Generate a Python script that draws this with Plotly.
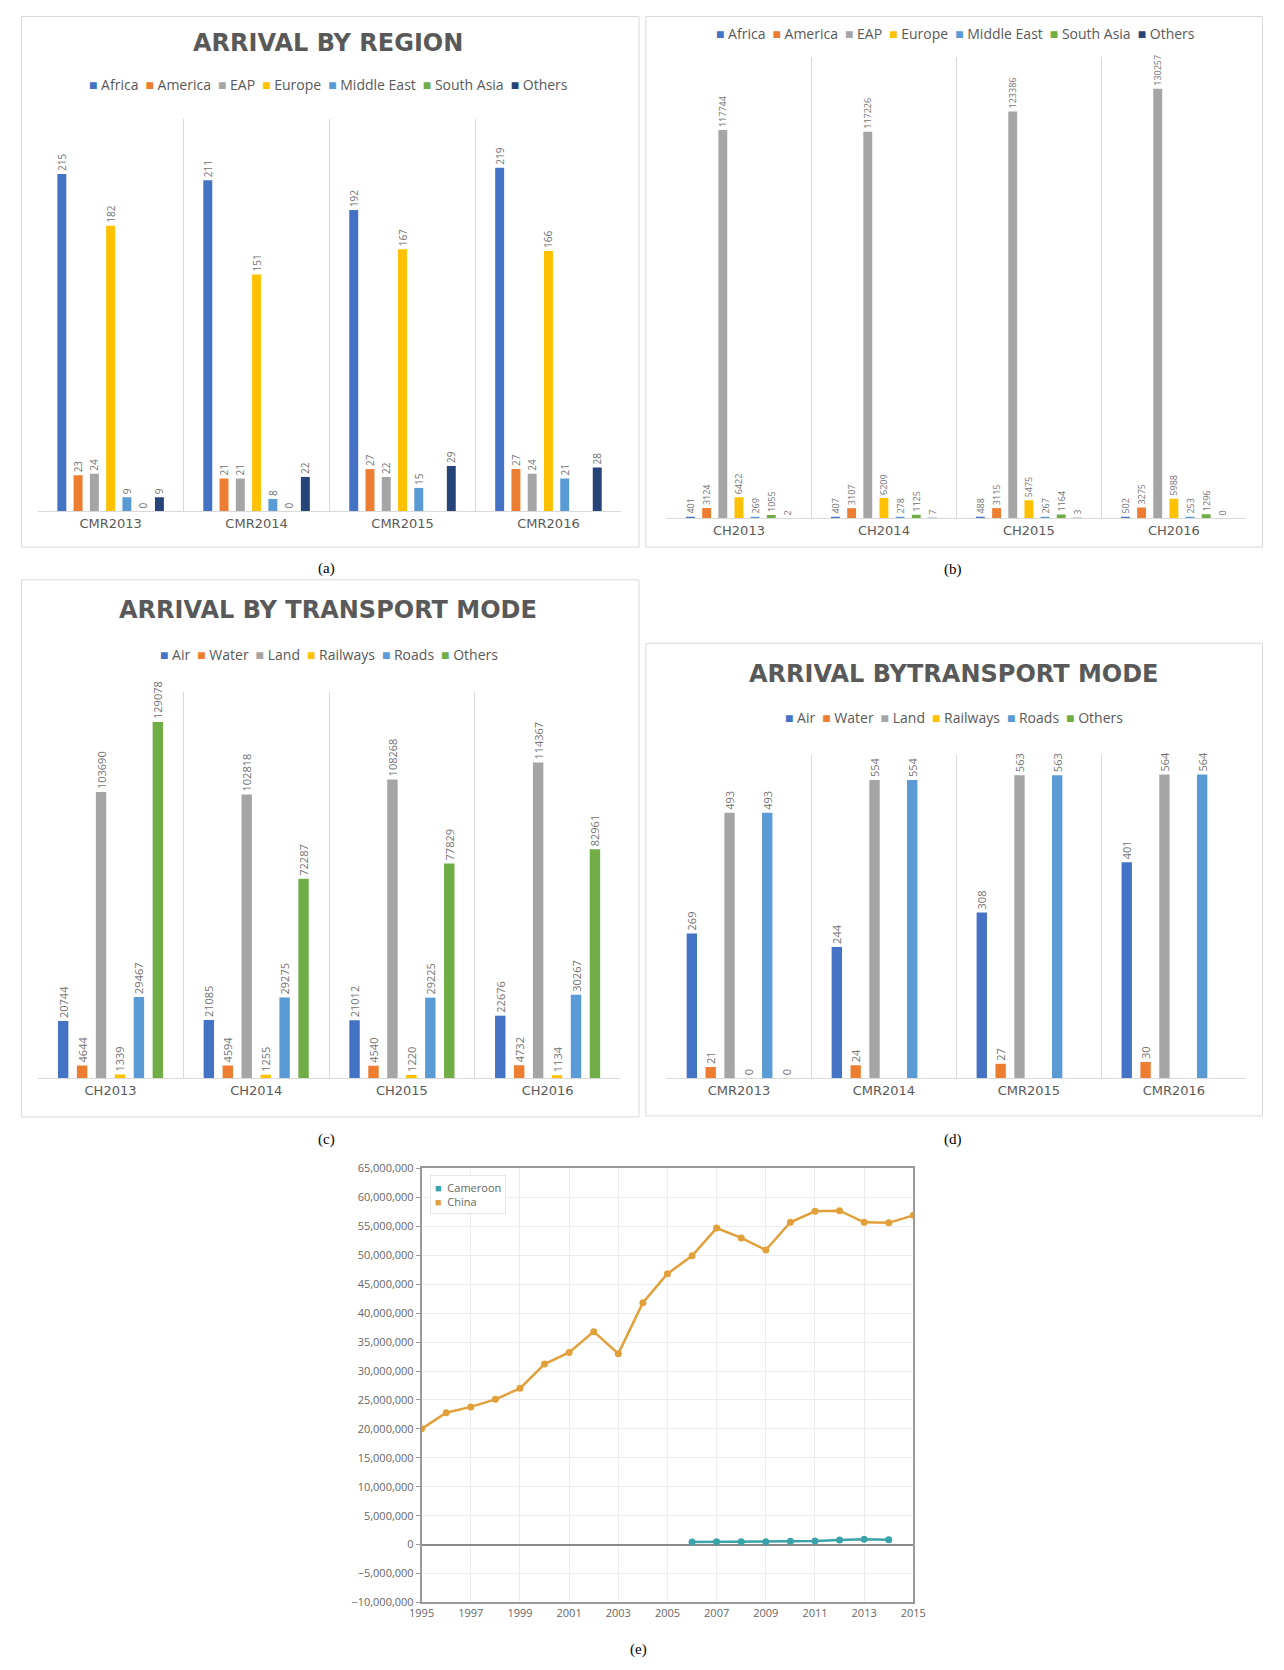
import plotly.graph_objects as go

# Target picture is 1284 x 1670; the page keeps the browser's default 8px body margin,
# so the figure is 1268 x 1654 and page = exactly the window size.
PW, PH = 1284, 1670
OFF = 8
W, H = PW - 2 * OFF, PH - 2 * OFF

# ---------------- data ----------------
a_cats = ["CMR2013", "CMR2014", "CMR2015", "CMR2016"]
a_africa = [215, 211, 192, 219]
a_america = [23, 21, 27, 27]
a_eap = [24, 21, 22, 24]
a_europe = [182, 151, 167, 166]
a_mideast = [9, 8, 15, 21]
a_southasia = [0, 0, None, None]
a_others = [9, 22, 29, 28]

b_cats = ["CH2013", "CH2014", "CH2015", "CH2016"]
b_africa = [401, 407, 488, 502]
b_america = [3124, 3107, 3115, 3275]
b_eap = [117744, 117226, 123386, 130257]
b_europe = [6422, 6209, 5475, 5988]
b_mideast = [269, 278, 267, 253]
b_southasia = [1055, 1125, 1164, 1296]
b_others = [2, 7, 3, 0]

c_cats = ["CH2013", "CH2014", "CH2015", "CH2016"]
c_air = [20744, 21085, 21012, 22676]
c_water = [4644, 4594, 4540, 4732]
c_land = [103690, 102818, 108268, 114367]
c_rail = [1339, 1255, 1220, 1134]
c_roads = [29467, 29275, 29225, 30267]
c_others = [129078, 72287, 77829, 82961]

d_cats = ["CMR2013", "CMR2014", "CMR2015", "CMR2016"]
d_air = [269, 244, 308, 401]
d_water = [21, 24, 27, 30]
d_land = [493, 554, 563, 564]
d_rail = [0, None, None, None]
d_roads = [493, 554, 563, 564]
d_others = [0, None, None, None]

region_names = ["Africa", "America", "EAP", "Europe", "Middle East", "South Asia", "Others"]
region_colors = ["#4472C4", "#ED7D31", "#A5A5A5", "#FFC000", "#5B9BD5", "#70AD47", "#264478"]
mode_names = ["Air", "Water", "Land", "Railways", "Roads", "Others"]
mode_colors = ["#4472C4", "#ED7D31", "#A5A5A5", "#FFC000", "#5B9BD5", "#70AD47"]

e_years_china = list(range(1995, 2016))
e_china = [20.0e6, 22.8e6, 23.8e6, 25.1e6, 27.0e6, 31.2e6, 33.2e6, 36.8e6, 33.0e6, 41.8e6,
           46.8e6, 49.9e6, 54.7e6, 53.0e6, 50.9e6, 55.7e6, 57.6e6, 57.7e6, 55.7e6, 55.6e6, 56.9e6]
e_years_cmr = list(range(2006, 2015))
e_cameroon = [451000, 482000, 487000, 498000, 573000, 604000, 817000, 912000, 822000]
e_names = ["Cameroon", "China"]
e_colors = ["#3BA3AA", "#E2A03A"]

# ---------------- helpers (page pixel -> paper) ----------------
def X(px):
    return (px - OFF) / W

def Y(py):
    return 1 - (py - OFF) / H

LBL = "#737373"
TXT = "#595959"
GRID = "#D9D9D9"

fig = go.Figure()

def add_bars(names, series, colors, cats, xa, ya, fs):
    for name, vals, col in zip(names, series, colors):
        fig.add_trace(go.Bar(
            x=cats, y=vals, name=name, marker=dict(color=col, line=dict(width=0)),
            text=["" if v is None else str(v) for v in vals],
            textposition="outside", textangle=-90,
            textfont=dict(size=fs, color=LBL, family="Open Sans"),
            constraintext="none", cliponaxis=False,
            xaxis=xa, yaxis=ya, showlegend=False, hoverinfo="skip"))

add_bars(region_names, [a_africa, a_america, a_eap, a_europe, a_mideast, a_southasia, a_others],
         region_colors, a_cats, "x", "y", 10)
add_bars(region_names, [b_africa, b_america, b_eap, b_europe, b_mideast, b_southasia, b_others],
         region_colors, b_cats, "x2", "y2", 9)
add_bars(mode_names, [c_air, c_water, c_land, c_rail, c_roads, c_others],
         mode_colors, c_cats, "x3", "y3", 11)
add_bars(mode_names, [d_air, d_water, d_land, d_rail, d_roads, d_others],
         mode_colors, d_cats, "x4", "y4", 11)

fig.add_trace(go.Scatter(x=e_years_cmr, y=e_cameroon, name=e_names[0], mode="lines+markers",
                         line=dict(color=e_colors[0], width=2.5), marker=dict(size=7, color=e_colors[0]),
                         xaxis="x5", yaxis="y5", showlegend=False))
fig.add_trace(go.Scatter(x=e_years_china, y=e_china, name=e_names[1], mode="lines+markers",
                         line=dict(color=e_colors[1], width=2.5), marker=dict(size=7, color=e_colors[1]),
                         xaxis="x5", yaxis="y5", showlegend=False))

def cat_x(domain, anchor):
    return dict(domain=[X(domain[0]), X(domain[1])], anchor=anchor, type="category",
                tickson="boundaries", showgrid=True, gridcolor=GRID, gridwidth=1,
                showline=True, linecolor=GRID, linewidth=1, ticks="",
                tickfont=dict(size=13, color=TXT, family="DejaVu Sans"), fixedrange=True)

def val_y(domain, anchor, rng):
    return dict(domain=[Y(domain[1]), Y(domain[0])], anchor=anchor, range=rng,
                visible=False, showgrid=False, zeroline=False, fixedrange=True)

layout = dict(
    width=W, height=H, autosize=False, margin=dict(l=0, r=0, t=0, b=0, pad=0),
    paper_bgcolor="white", plot_bgcolor="white",
    barmode="group", bargap=0.22, bargroupgap=0.45,
    showlegend=False,
    xaxis=cat_x((25, 621), "y"), yaxis=val_y((112, 508), "x", [0, 250]),
    xaxis2=cat_x((667, 1259), "y2"), yaxis2=val_y((49, 515), "x2", [0, 140000]),
    xaxis3=cat_x((25, 620), "y3"), yaxis3=val_y((690, 1080), "x3", [0, 140000]),
    xaxis4=cat_x((667, 1259), "y4"), yaxis4=val_y((754, 1080), "x4", [0, 600]),
    xaxis5=dict(domain=[X(417), X(919)], anchor="y5", range=[1995, 2015], tick0=1995, dtick=2,
                showgrid=True, gridcolor="#ECECEC", showline=True, mirror=True,
                linecolor="#9A9A9A", linewidth=1.5, ticks="", zeroline=False,
                tickfont=dict(size=11, color="#666666", family="Open Sans")),
    yaxis5=dict(domain=[Y(1609), Y(1171)], anchor="x5", range=[-10e6, 65e6], tick0=0, dtick=5e6,
                tickformat=",d", showgrid=True, gridcolor="#ECECEC", showline=True, mirror=True,
                linecolor="#9A9A9A", linewidth=1.5, ticks="outside", ticklen=4, tickcolor="#9A9A9A",
                zeroline=True, zerolinecolor="#8A8A8A", zerolinewidth=1.5,
                tickfont=dict(size=11, color="#666666", family="Open Sans")),
)
fig.update_layout(**layout)

# panel borders (kept inside the figure area)
shapes = []
for (x0, y0, x1, y1) in [(8.5, 8.5, 639, 544), (646, 8.5, 1275.5, 544),
                         (8.5, 577, 639, 1119), (646, 641, 1275.5, 1118)]:
    shapes.append(dict(type="rect", xref="paper", yref="paper", x0=X(x0), x1=X(x1), y0=Y(y1), y1=Y(y0),
                       line=dict(color=GRID, width=1), fillcolor="rgba(0,0,0,0)", layer="below"))
fig.update_layout(shapes=shapes)

ann = []

def title(text, cx, cy):
    ann.append(dict(text="<b>" + text + "</b>", x=X(cx), y=Y(cy), xref="paper", yref="paper",
                    xanchor="center", yanchor="middle", showarrow=False,
                    font=dict(size=24, color=TXT, family="DejaVu Sans")))

def legend_text(names, colors, cx, cy, size=14):
    parts = ["<span style='color:%s'>■</span> %s" % (c, n) for n, c in zip(names, colors)]
    ann.append(dict(text="\u2002".join(parts), x=X(cx), y=Y(cy), xref="paper", yref="paper",
                    xanchor="center", yanchor="middle", showarrow=False,
                    font=dict(size=size, color=TXT, family="Open Sans")))

def caption(text, cx, cy):
    ann.append(dict(text=text, x=X(cx), y=Y(cy), xref="paper", yref="paper",
                    xanchor="center", yanchor="middle", showarrow=False,
                    font=dict(size=15, color="black", family="Liberation Serif")))

title("ARRIVAL BY REGION", 321, 35)
title("ARRIVAL BY TRANSPORT MODE", 321, 607)
title("ARRIVAL BYTRANSPORT MODE", 961, 672)
legend_text(region_names, region_colors, 322, 77)
legend_text(region_names, region_colors, 962, 26)
legend_text(mode_names, mode_colors, 322, 652)
legend_text(mode_names, mode_colors, 961, 716)
caption("(a)", 320, 566)
caption("(b)", 960, 567)
caption("(c)", 320, 1142)
caption("(d)", 960, 1142)
caption("(e)", 638, 1656)

# legend box for (e)
e_leg = "<br>".join("<span style='color:%s'>■</span>  %s" % (c, n) for n, c in zip(e_names, e_colors))
ann.append(dict(text=e_leg, x=X(426), y=Y(1178), xref="paper", yref="paper", xanchor="left",
                yanchor="top", align="left", showarrow=False, bgcolor="white", bordercolor="#E6E6E6",
                borderwidth=1, borderpad=4, font=dict(size=11, color="#666666", family="Open Sans")))

fig.update_layout(annotations=ann)

fig.write_html("out.html", config={"displayModeBar": False})
